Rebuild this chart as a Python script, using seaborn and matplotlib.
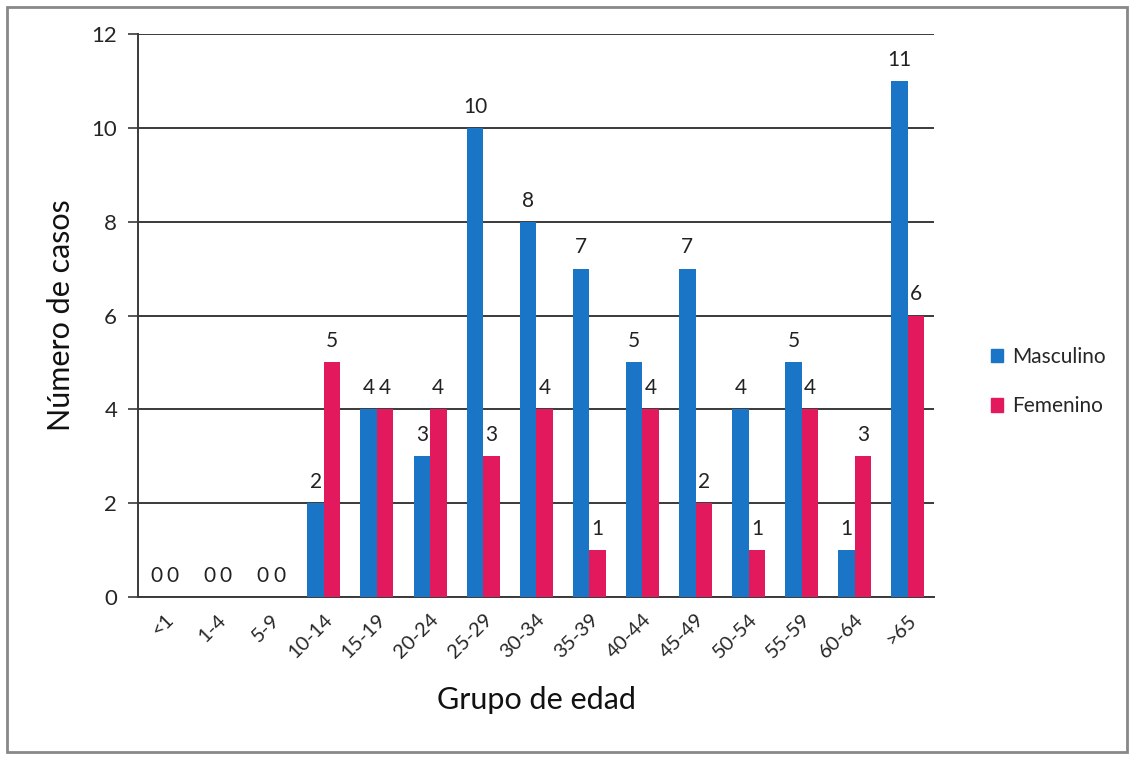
import matplotlib
matplotlib.use("Agg")
import matplotlib.pyplot as plt
import matplotlib.patches as mpatches
import seaborn as sns
import pandas as pd

grupos = ["<1", "1-4", "5-9", "10-14", "15-19", "20-24", "25-29", "30-34",
          "35-39", "40-44", "45-49", "50-54", "55-59", "60-64", ">65"]
masculino = [0, 0, 0, 2, 4, 3, 10, 8, 7, 5, 7, 4, 5, 1, 11]
femenino = [0, 0, 0, 5, 4, 4, 3, 4, 1, 4, 2, 1, 4, 3, 6]
series = ["Masculino", "Femenino"]
colores = {"Masculino": "#1b75c6", "Femenino": "#e3195d"}

df = pd.DataFrame({
    "grupo": grupos * 2,
    "casos": masculino + femenino,
    "sexo": [series[0]] * len(grupos) + [series[1]] * len(grupos),
})

sns.set_style("white")
plt.rcParams["font.family"] = ["Lato", "DejaVu Sans"]

fig = plt.figure(figsize=(11.33, 7.59), dpi=100)
ax = fig.add_axes([0.1218, 0.2134, 0.703, 0.7418])

sns.barplot(data=df, x="grupo", y="casos", hue="sexo", order=grupos,
            hue_order=series, palette=colores, width=0.62, saturation=1,
            linewidth=0, legend=False, ax=ax, zorder=3)

for cont in ax.containers:
    ax.bar_label(cont, fmt="%d", padding=8, fontsize=15, color="#222222")

ax.set_ylim(0, 12)
ax.set_xlim(-0.5, 14.5)
ax.set_yticks(range(0, 13, 2))
ax.yaxis.grid(True, color="#3a3a3a", linewidth=1.4, zorder=0)
ax.set_axisbelow(True)
for s in ["top", "right"]:
    ax.spines[s].set_visible(False)
ax.spines["left"].set_color("#3a3a3a")
ax.spines["left"].set_linewidth(1.4)
ax.spines["bottom"].set_color("#3a3a3a")
ax.spines["bottom"].set_linewidth(1.4)
ax.tick_params(axis="y", length=7, width=1.2, color="#3a3a3a",
               labelsize=16, pad=8, left=True)
ax.tick_params(axis="x", length=0, labelsize=14.5, pad=10)
plt.setp(ax.get_xticklabels(), rotation=45, ha="right", rotation_mode="anchor")
ax.set_xlabel("Grupo de edad", fontsize=22, labelpad=18, color="#111111")
ax.set_ylabel("Número de casos", fontsize=22, labelpad=12, color="#111111")

handles = [mpatches.Patch(color=colores[s], label=s) for s in series]
fig.legend(handles=handles, loc="center left", bbox_to_anchor=(0.858, 0.497),
           frameon=False, fontsize=15, handlelength=0.6, handleheight=0.6,
           handletextpad=0.4, labelspacing=1.4)

fig.patches.append(mpatches.Rectangle((0.006, 0.009), 0.989, 0.982,
                                      transform=fig.transFigure, fill=False,
                                      edgecolor="#888888", linewidth=2))

fig.savefig("out.png", dpi=100, facecolor="white")
